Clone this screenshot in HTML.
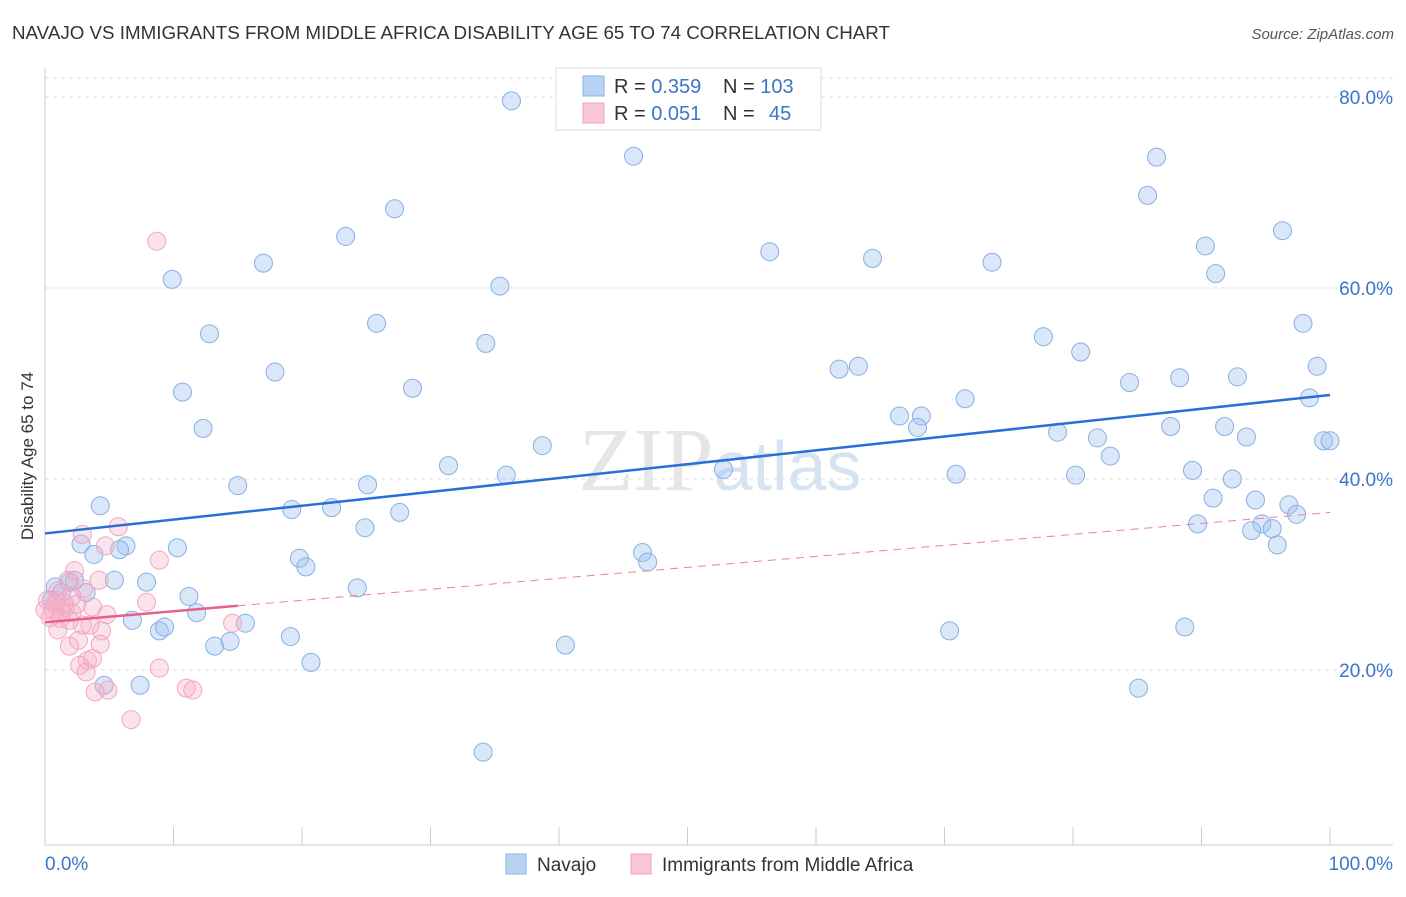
<!DOCTYPE html>
<html><head><meta charset="utf-8"><style>
body{margin:0;background:#fff;font-family:"Liberation Sans",sans-serif;}
</style></head><body>
<svg id="chart" width="1406" height="892" xmlns="http://www.w3.org/2000/svg" font-family="Liberation Sans, sans-serif">
<text x="12" y="39" font-size="18" fill="#333" textLength="878" lengthAdjust="spacingAndGlyphs">NAVAJO VS IMMIGRANTS FROM MIDDLE AFRICA DISABILITY AGE 65 TO 74 CORRELATION CHART</text>
<text x="1394" y="39" font-size="15" fill="#555" font-style="italic" text-anchor="end">Source: ZipAtlas.com</text>
<g id="grid"></g>
<text x="720" y="490" font-size="90" fill="#e6e6e6" text-anchor="middle" font-family="Liberation Serif, serif">ZIP<tspan fill="#d5e3f3" font-family="Liberation Sans, sans-serif" font-size="70">atlas</tspan></text>
<text x="33" y="456" font-size="17" fill="#333" text-anchor="middle" transform="rotate(-90 33 456)">Disability Age 65 to 74</text>
<g id="marks"></g>
<g>
<rect x="556" y="68" width="265" height="62" fill="#fff" stroke="#ddd"/>
<rect x="583" y="76" width="21" height="20" fill="#b8d3f3" stroke="#8ab2e6"/>
<rect x="583" y="103" width="21" height="20" fill="#f9c6d6" stroke="#f0a0bc"/>
<text x="614" y="93" font-size="20" fill="#333">R = <tspan fill="#3a76c8">0.359</tspan><tspan x="723">N = </tspan><tspan fill="#3a76c8">103</tspan></text>
<text x="614" y="120" font-size="20" fill="#333">R = <tspan fill="#3a76c8">0.051</tspan><tspan x="723">N = </tspan><tspan x="769" fill="#3a76c8">45</tspan></text>
</g>
<g>
<rect x="506" y="854" width="20" height="20" fill="#b8d3f3" stroke="#8ab2e6"/>
<text x="537" y="871" font-size="19" fill="#333">Navajo</text>
<rect x="631" y="854" width="20" height="20" fill="#f9c6d6" stroke="#f0a0bc"/>
<text x="662" y="871" font-size="19" fill="#333">Immigrants from Middle Africa</text>
</g>
</svg>
<script>
const yTicks=[20,40,60,80];
const xTickLabels=["0.0%","100.0%"];
const navajoX=[36.3,45.8,86.5,85.8,27.2,23.4,56.4,90.3,96.3,17.0,9.9,64.4,73.7,91.1,35.4,25.8,12.8,97.9,34.3,77.7,80.6,99.0,17.9,61.8,63.3,84.4,88.3,92.8,10.7,28.6,71.6,98.4,66.5,68.2,12.3,67.9,78.8,81.9,87.6,91.8,93.5,38.7,99.5,100.0,31.4,52.8,35.9,82.9,70.9,80.2,89.3,15.0,25.1,92.4,4.3,19.2,22.3,27.6,90.9,94.2,96.8,97.4,24.9,89.7,94.7,93.9,95.5,2.8,6.3,3.8,5.8,10.3,46.5,19.8,20.3,46.9,95.9,0.8,1.9,2.3,5.4,7.9,24.3,3.2,1.3,11.2,11.8,6.8,8.9,9.3,15.6,70.4,88.7,13.2,14.4,19.1,40.5,20.7,7.4,4.6,85.1,34.1,0.5];
const navajoY=[79.6,73.8,73.7,69.7,68.3,65.4,63.8,64.4,66.0,62.6,60.9,63.1,62.7,61.5,60.2,56.3,55.2,56.3,54.2,54.9,53.3,51.8,51.2,51.5,51.8,50.1,50.6,50.7,49.1,49.5,48.4,48.5,46.6,46.6,45.3,45.4,44.9,44.3,45.5,45.5,44.4,43.5,44.0,44.0,41.4,41.0,40.4,42.4,40.5,40.4,40.9,39.3,39.4,40.0,37.2,36.8,37.0,36.5,38.0,37.8,37.3,36.3,34.9,35.3,35.3,34.6,34.8,33.2,33.0,32.1,32.6,32.8,32.3,31.7,30.8,31.3,33.1,28.7,29.2,29.4,29.4,29.2,28.6,28.1,28.1,27.7,26.0,25.2,24.1,24.5,24.9,24.1,24.5,22.5,23.0,23.5,22.6,20.8,18.4,18.4,18.1,11.4,27.3];
const immX=[8.7,5.7,2.9,4.7,8.9,2.3,3.0,1.0,0.2,0.8,1.6,3.7,1.3,2.1,0.4,4.8,2.9,4.4,1.0,2.6,4.3,1.9,7.9,14.6,3.3,3.7,2.7,3.2,8.9,3.9,4.9,11.0,11.5,6.7,1.8,0.6,1.2,1.5,4.2,0.0,2.1,0.9,3.5,1.9,2.5];
const immY=[64.9,35.0,34.2,33.0,31.5,30.4,28.5,28.3,27.3,26.8,26.5,26.6,26.1,26.0,25.5,25.8,24.7,24.1,24.2,23.1,22.7,22.5,27.1,24.9,21.0,21.2,20.5,19.8,20.2,17.7,17.9,18.1,17.9,14.8,29.4,26.3,25.4,27.0,29.4,26.3,27.7,27.3,24.7,25.2,26.9];
const navajoTrend=[34.3,48.8];
const immTrend=[25.0,36.5];
const immSolidEnd=15;
const NS="http://www.w3.org/2000/svg";
const X=v=>45+v*12.85;
const Y=v=>861-v*9.55;
function mk(tag,attrs,parent){const e=document.createElementNS(NS,tag);for(const k in attrs)e.setAttribute(k,attrs[k]);parent.appendChild(e);return e;}
const grid=document.getElementById('grid');
const marks=document.getElementById('marks');
yTicks.forEach(t=>{
 const l=mk('line',{x1:45,x2:1393,y1:Y(t),y2:Y(t),stroke:'#ddd','stroke-dasharray':'4,4'},grid);
 
 
 const tx=mk('text',{x:1393,y:Y(t)+7,'font-size':19,fill:'#3a76c8','text-anchor':'end'},grid);
 tx.textContent=t.toFixed(1)+'%';
 
 
});
const topG=mk('line',{x1:45,x2:1393,y1:78,y2:78,stroke:'#ddd','stroke-dasharray':'4,4'},grid);


const xa=mk('line',{x1:45,x2:1393,y1:845,y2:845,stroke:'#ccc'},grid);


const ya=mk('line',{x1:45,x2:45,y1:68,y2:845,stroke:'#ccc'},grid);


for(let i=0;i<=10;i++){
 const t=mk('line',{x1:X(i*10),x2:X(i*10),y1:827,y2:845,stroke:'#ccc'},grid);
 
 
}
[[0,'start',45],[100,'end',1393]].forEach((d,i)=>{
 const tx=mk('text',{x:d[2],y:870,'font-size':19,fill:'#3a76c8','text-anchor':d[1]},grid);
 tx.textContent=xTickLabels[i];
 
 
});
navajoX.forEach((x,i)=>{
 const c=mk('circle',{cx:X(x),cy:Y(navajoY[i]),r:9,fill:'rgba(160,196,240,0.4)',stroke:'#86b0e4','stroke-width':1},marks);
 
 
});
immX.forEach((x,i)=>{
 const c=mk('circle',{cx:X(x),cy:Y(immY[i]),r:9,fill:'rgba(246,175,198,0.35)',stroke:'#f2a6c0','stroke-width':1},marks);
 
 
});
const bl=mk('line',{x1:X(0),y1:Y(navajoTrend[0]),x2:X(100),y2:Y(navajoTrend[1]),stroke:'#2a6fd6','stroke-width':2.5},marks);


const iy=v=>immTrend[0]+(immTrend[1]-immTrend[0])*v/100;
const pd=mk('line',{x1:X(immSolidEnd),y1:Y(iy(immSolidEnd)),x2:X(100),y2:Y(iy(100)),stroke:'#e8809f','stroke-width':1,'stroke-dasharray':'8,6'},marks);


const ps=mk('line',{x1:X(0),y1:Y(iy(0)),x2:X(immSolidEnd),y2:Y(iy(immSolidEnd)),stroke:'#e8608a','stroke-width':2.5},marks);


</script>
</body></html>
